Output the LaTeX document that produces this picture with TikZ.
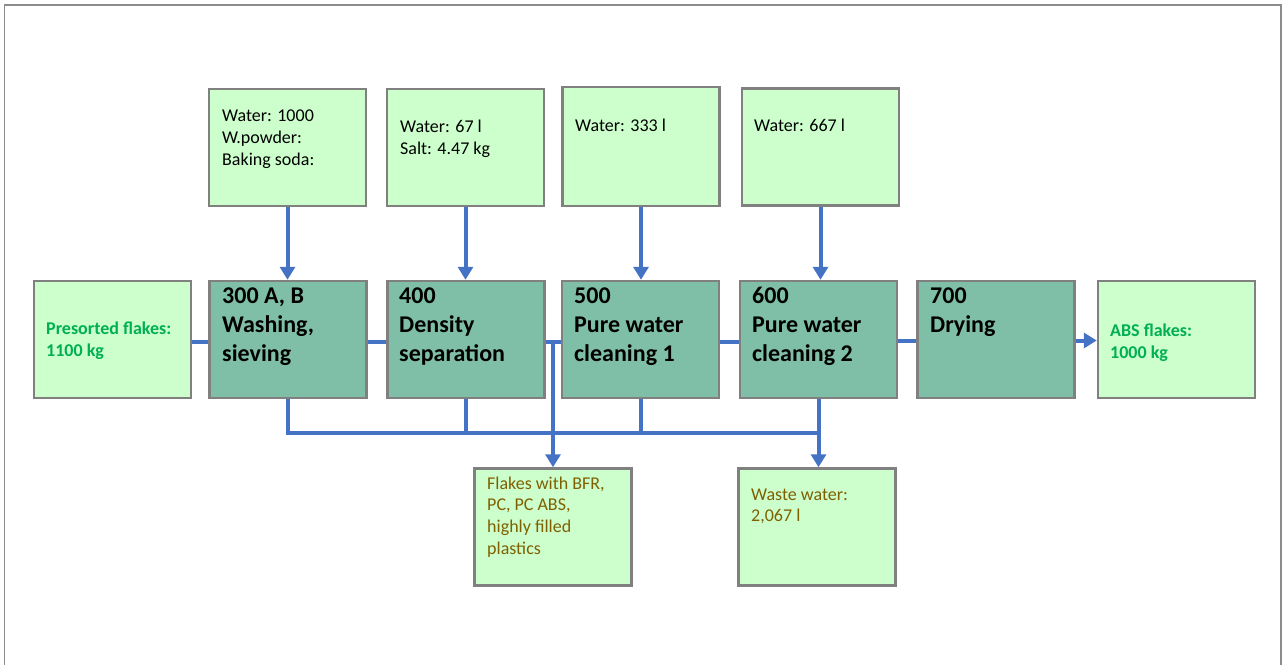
\documentclass[tikz,border=0pt]{standalone}
\usepackage{fontspec}
\setmainfont{Carlito}
\usetikzlibrary{arrows.meta,calc}
\definecolor{lgreen}{HTML}{CCFFCC}
\definecolor{procfill}{HTML}{7FBFA8}
\definecolor{bordergray}{HTML}{808080}
\definecolor{framegray}{HTML}{8C8C8C}
\definecolor{flowblue}{HTML}{4472C4}
\definecolor{txtgreen}{HTML}{00B050}
\definecolor{txtbrown}{HTML}{7F6000}
\pgfdeclarelayer{bg}
\pgfsetlayers{bg,main}
\begin{document}
\begin{tikzpicture}[x=1pt,y=-1pt,
  box/.style={draw=bordergray, line width=2.5pt, minimum width=157pt, minimum height=117pt, inner sep=0pt},
  inbox/.style={box, fill=lgreen},
  procbox/.style={box, fill=procfill},
  txt/.style={anchor=north west, inner sep=0pt, align=left, font=\fontsize{18}{22}\selectfont},
  proctxt/.style={anchor=north west, inner sep=0pt, align=left, font=\fontsize{24}{29}\selectfont\bfseries},
  flow/.style={draw=flowblue, line width=4pt},
  flowarrow/.style={flow, -{Triangle[width=15pt,length=13pt]}},
]
\useasboundingbox (0,0) rectangle (1284,665);
\draw[framegray, line width=1.5pt] (4.5,665) -- (4.5,5) -- (1281,5) -- (1281,665);

% input boxes
\node[inbox] (A) at (287.5,147.5) {};
\node[inbox] (B) at (465.5,147.5) {};
\node[inbox, minimum height=119pt] (C) at (641,146.5) {};
\node[inbox] (D) at (820.5,147) {};
% process row
\node[inbox] (Pre) at (112.5,339.5) {};
\node[procbox] (P3) at (288,339.5) {};
\node[procbox] (P4) at (466,339.5) {};
\node[procbox] (P5) at (640.5,339.5) {};
\node[procbox] (P6) at (818.5,339.5) {};
\node[procbox] (P7) at (996,339.5) {};
\node[inbox] (ABS) at (1176.5,339.5) {};
% outputs
\node[inbox] (Flk) at (553,527) {};
\node[inbox] (Wst) at (817,527) {};

% texts
\node[txt] (tA) at (222,105.6) {\strut Water: 1000\\W.powder:\\Baking soda:};
\node[txt] (tB) at (400,116.6) {\strut Water: 67 l\\Salt: 4.47 kg};
\node[txt] (tC) at (575,115.6) {\strut Water: 333 l};
\node[txt] (tD) at (754,115.6) {\strut Water: 667 l};
\node[txt, text=txtgreen, font=\fontsize{18}{22}\selectfont\bfseries] (tPre) at (46,318.6) {\strut Presorted flakes:\\1100 kg};
\node[txt, text=txtgreen, font=\fontsize{18}{22}\selectfont\bfseries] (tABS) at (1110,320.6) {\strut ABS flakes:\\1000 kg};
\node[proctxt] (t3) at (222,282.7) {\strut 300 A, B\\Washing,\\sieving};
\node[proctxt] (t4) at (399,282.7) {\strut 400\\Density\\separation};
\node[proctxt] (t5) at (574,282.7) {\strut 500\\Pure water\\cleaning 1};
\node[proctxt] (t6) at (752,282.7) {\strut 600\\Pure water\\cleaning 2};
\node[proctxt] (t7) at (930,282.7) {\strut 700\\Drying};
\node[txt, text=txtbrown, font=\fontsize{18}{21.7}\selectfont] (tFlk) at (487,473.8) {\strut Flakes with BFR,\\PC, PC ABS,\\highly filled\\plastics};
\node[txt, text=txtbrown, font=\fontsize{18}{21.7}\selectfont] (tWst) at (751,484.8) {\strut Waste water:\\2,067 l};

\coordinate (busY) at (0,433);
\begin{pgfonlayer}{bg}
  % inputs down into process boxes
  \draw[flowarrow] (A.south) -- (A.south |- P3.north);
  \draw[flowarrow] (B.south) -- (B.south |- P4.north);
  \draw[flowarrow] (C.south) -- (C.south |- P5.north);
  \draw[flowarrow] (D.south) -- (D.south |- P6.north);
  % main line
  \draw[flow] ($(Pre.east)+(0,2)$) -- ($(P3.west)+(0,2)$);
  \draw[flow] ($(P3.east)+(0,2)$) -- ($(P4.west)+(0,2)$);
  \draw[flow] ($(P4.east)+(0,2)$) -- ($(P5.west)+(0,2)$);
  \draw[flow] ($(P5.east)+(0,2)$) -- ($(P6.west)+(0,2)$);
  \draw[flow] ($(P6.east)+(0,1)$) -- ($(P7.west)+(0,1)$);
  \draw[flowarrow] ($(P7.east)+(0,1)$) -- ($(ABS.west)+(0,1)$);
  % reject flakes
  \coordinate (J) at ($(Flk.north |- P4.east)+(0,2)$);
  \draw[flowarrow] (J) -- (Flk.north);
  % waste water bus
  \coordinate (busE) at ($(P6.south |- busY)+(1.5,0)$);
  \draw[flow] (P3.south) |- (busE);
  \draw[flow] (P4.south) -- (P4.south |- busY);
  \draw[flow] (P5.south) -- (P5.south |- busY);
  \draw[flowarrow] (P6.south) -- (P6.south |- Wst.north);
\end{pgfonlayer}
\end{tikzpicture}
\end{document}
